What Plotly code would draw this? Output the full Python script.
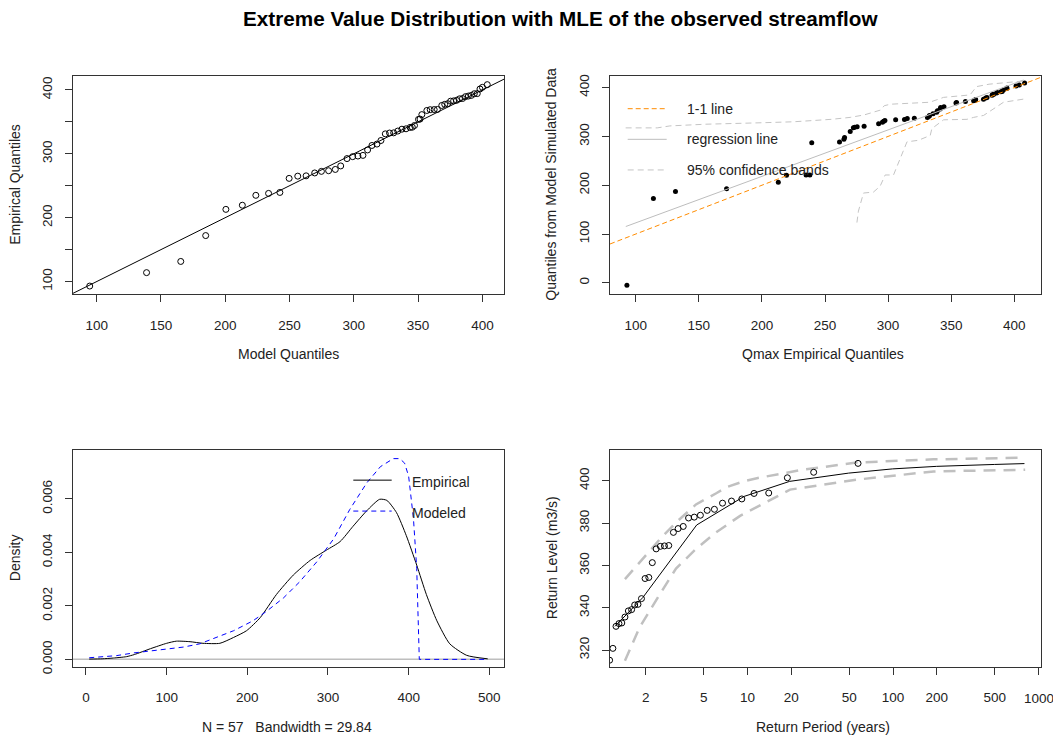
import plotly.graph_objects as go

W, H = 1053, 744

# ---------------- data ----------------
qmax_sorted = [93, 114, 131.5, 172, 213, 219.5, 235, 238, 239.5, 261.5,
               265, 265.5, 270, 272.5, 273.5, 275.5, 281, 292.5, 295.5, 296.5,
               297.5, 306, 313, 315.2, 320.8, 331.2, 332.5, 332.8, 335.6, 338.5,
               339.1, 341.3, 341.6, 344.3, 353.8, 354.3, 361.3, 367.8, 369, 369.2,
               369.4, 375.6, 377.4, 378.4, 382.4, 382.8, 383.7, 386, 386.5, 389.4,
               390.4, 391.4, 394.0, 394.2, 401.4, 404.0, 408.2]

model_quantiles = [94.6, 138.8, 165.4, 184.8, 200.5, 213.3, 223.8, 233.7, 242.5, 249.7,
                   256.4, 262.9, 269.6, 274.8, 280.4, 285.6, 289.8, 294.7, 299.1, 303.2,
                   307.1, 310.7, 314.1, 318.0, 321.1, 324.5, 327.8, 331.0, 334.2, 337.4,
                   340.6, 343.8, 345.5, 347.2, 350.3, 351.5, 352.9, 356.8, 359.4, 362.5,
                   365.0, 368.4, 370.7, 373.0, 375.3, 377.6, 379.9, 382.2, 384.5, 386.8,
                   389.1, 391.4, 393.7, 396.0, 398.1, 400.0, 403.8]

sim_quantiles = [-5, 173, 187, 193, 206, 220.6, 221, 221.2, 287, 288.5,
                 294, 297.6, 310.3, 317.8, 319, 319.8, 321, 325.9, 329.1, 331,
                 332.6, 334.2, 334.6, 336.5, 337.2, 338.7, 341.3, 343, 346.2, 349.4,
                 352.8, 356.3, 359.5, 360.9, 368.4, 369.6, 371.7, 373, 374, 375,
                 375.5, 376, 378.5, 379.8, 384.6, 386, 386.6, 388.7, 389.9, 391.3,
                 392, 395.3, 398, 399, 403.4, 405.5, 409.5]

reg_x = [92.1, 407.4]
reg_y = [115.4, 415.6]

ci_up_x = [92, 117, 127, 155, 200, 225, 255, 270, 281, 294, 297, 302, 333, 344, 365, 370, 380, 397, 409]
ci_up_y = [317.5, 317.5, 321.5, 325, 328, 330, 335, 339, 344, 354, 363, 366, 370, 380, 385, 402, 407, 411, 414]
ci_lo_x = [275.3, 276.5, 280.5, 288.4, 293.7, 297.7, 304.3, 315, 324, 333.4, 334.7, 344, 362.5, 367.8, 375.7, 391.5, 408.7]
ci_lo_y = [123.5, 147, 184, 186, 198, 221, 221, 289, 292, 302, 316, 334, 335, 339, 343, 370, 377]

emp_dens_x = [4, 20, 34, 50, 60, 80, 100, 112, 129, 145, 166, 183, 199, 216, 236, 257, 278,
              298, 315, 331, 348, 364, 373, 385, 397, 410, 422, 435, 451, 472, 498]
emp_dens_y = [0.00001, 0.00002, 0.00005, 0.0001, 0.00018, 0.0004, 0.0006, 0.00068, 0.00066,
              0.0006, 0.0006, 0.00082, 0.00107, 0.00156, 0.00242, 0.00315, 0.0037, 0.00408,
              0.00440, 0.00497, 0.00555, 0.00598, 0.00594, 0.00548, 0.00463, 0.00352, 0.00242,
              0.00144, 0.00058, 0.00015, 0.00002]
mod_dens_x = [4, 38, 59, 100, 121, 141, 162, 183, 207, 224, 245, 265, 286, 307, 327, 348, 365,
              381, 389, 395, 400, 406, 410, 412, 413.2, 450, 498]
mod_dens_y = [0.00006, 0.00014, 0.00024, 0.00039, 0.00046, 0.00058, 0.00082, 0.00107, 0.00144,
              0.0018, 0.0023, 0.0029, 0.00364, 0.0045, 0.0056, 0.00659, 0.0072, 0.0075, 0.0075,
              0.00733, 0.00684, 0.00524, 0.0034, 0.00156, 0.0, 0.0, 0.0]

rp_points = [57.5, 28.5, 18.8, 14.0, 11.1, 9.15, 7.77, 6.74, 5.93, 5.29, 4.75, 4.31, 3.94, 3.62,
             3.34, 3.10, 2.88, 2.69, 2.52, 2.36, 2.22, 2.10, 1.98, 1.87, 1.77, 1.68, 1.60, 1.52,
             1.44, 1.37, 1.31, 1.25, 1.19, 1.13]
rl_points = qmax_sorted[::-1][:len(rp_points)]

rl_T = [1.23, 1.91, 4.48, 9.49, 19.5, 49.5, 99.5, 199.5, 499.5, 799.5]
rl_level = [331.2, 344.8, 379.1, 392.6, 399.7, 403.6, 405.6, 406.8, 407.7, 408.1]
rl_up_T = [1.44, 1.91, 2.55, 3.32, 4.43, 6.15, 7.2, 9.49, 11.6, 18.6, 23, 56, 190, 809]
rl_up = [353.5, 363, 373, 381, 388.8, 394.2, 397, 399.8, 401.2, 403.8, 405, 408.6, 410.1, 410.9]
rl_lo_T = [1.44, 1.81, 2.48, 3.23, 4.43, 6.08, 8.9, 19.6, 56, 190, 809]
rl_lo = [314.9, 330.5, 346, 358.5, 367.8, 375.6, 383.4, 395.8, 400.5, 404.4, 405.2]

rp_ticks = [2, 5, 10, 20, 50, 100, 200, 500, 1000]
rp_ticktext = ["2", "5", "10", "20", "50", "100", "200", "500", ""]

# ---------------- layout helpers ----------------
FONT = "Liberation Sans, Arial, sans-serif"
INK = "#222222"
TICK_SIZE = 13.5


def px(x):
    return x / W


def py(y):
    return 1 - y / H


def axis(dom, rng, tickvals, ticktext=None, vertical=False, log=False):
    d = dict(domain=dom, range=rng, tickvals=tickvals, showline=True, mirror=True,
             linecolor="#333", linewidth=1, ticks="outside", ticklen=7, tickcolor="#333",
             tickwidth=1, showgrid=False, zeroline=False,
             tickfont=dict(size=TICK_SIZE, color=INK, family=FONT), fixedrange=True)
    if ticktext is not None:
        d["ticktext"] = ticktext
    if log:
        d["type"] = "log"
    if vertical:
        d["tickangle"] = -90
        d["ticklabelstandoff"] = 8
    else:
        d["ticklabelstandoff"] = 11
    return d


X_L = [px(73), px(504)]
X_R = [px(610), px(1041)]
Y_T = [py(296), py(75)]
Y_B = [py(673), py(453)]

fig = go.Figure()

# ---- top-left: QQ plot ----
fig.add_trace(go.Scatter(x=model_quantiles, y=qmax_sorted, mode="markers",
                         marker=dict(symbol="circle-open", size=6, color="black",
                                     line=dict(width=1, color="black")),
                         xaxis="x", yaxis="y", showlegend=False))
TL_XR = [81.6, 416.8]
TL_YR = [79.9, 421.6]
fig.add_trace(go.Scatter(x=TL_XR, y=TL_XR, mode="lines", line=dict(color="black", width=1),
                         xaxis="x", yaxis="y", showlegend=False))

# ---- top-right: QQ plot vs simulated ----
TR_XR = [79.6, 421.2]
TR_YR = [-23.7, 423.6]
fig.add_trace(go.Scatter(x=qmax_sorted, y=sim_quantiles, mode="markers",
                         marker=dict(symbol="circle", size=5, color="black"),
                         xaxis="x2", yaxis="y2", showlegend=False))
fig.add_trace(go.Scatter(x=TR_XR, y=TR_XR, mode="lines",
                         line=dict(color="darkorange", width=1, dash="5px,3px"),
                         xaxis="x2", yaxis="y2", showlegend=False))
fig.add_trace(go.Scatter(x=reg_x, y=reg_y, mode="lines", line=dict(color="#bdbdbd", width=1),
                         xaxis="x2", yaxis="y2", showlegend=False))
fig.add_trace(go.Scatter(x=ci_up_x, y=ci_up_y, mode="lines",
                         line=dict(color="#c4c4c4", width=1, dash="6px,4px"),
                         xaxis="x2", yaxis="y2", showlegend=False))
fig.add_trace(go.Scatter(x=ci_lo_x, y=ci_lo_y, mode="lines",
                         line=dict(color="#c4c4c4", width=1, dash="6px,4px"),
                         xaxis="x2", yaxis="y2", showlegend=False))

# ---- bottom-left: density ----
fig.add_trace(go.Scatter(x=emp_dens_x, y=emp_dens_y, mode="lines",
                         line=dict(color="black", width=1, shape="spline", smoothing=0.6),
                         xaxis="x3", yaxis="y3", showlegend=False))
fig.add_trace(go.Scatter(x=mod_dens_x, y=mod_dens_y, mode="lines",
                         line=dict(color="blue", width=1, dash="5px,4px"),
                         xaxis="x3", yaxis="y3", showlegend=False))

# ---- bottom-right: return level ----
fig.add_trace(go.Scatter(x=rl_T, y=rl_level, mode="lines", line=dict(color="black", width=1),
                         xaxis="x4", yaxis="y4", showlegend=False))
fig.add_trace(go.Scatter(x=rl_up_T, y=rl_up, mode="lines",
                         line=dict(color="#c0c0c0", width=2.5, dash="12px,8px"),
                         xaxis="x4", yaxis="y4", showlegend=False))
fig.add_trace(go.Scatter(x=rl_lo_T, y=rl_lo, mode="lines",
                         line=dict(color="#c0c0c0", width=2.5, dash="12px,8px"),
                         xaxis="x4", yaxis="y4", showlegend=False))
fig.add_trace(go.Scatter(x=rp_points, y=rl_points, mode="markers",
                         marker=dict(symbol="circle-open", size=6, color="black",
                                     line=dict(width=1, color="black")),
                         xaxis="x4", yaxis="y4", showlegend=False))

t100 = [100, 150, 200, 250, 300, 350, 400]
fig.update_layout(
    width=W, height=H, margin=dict(l=0, r=0, t=0, b=0),
    paper_bgcolor="white", plot_bgcolor="white",
    font=dict(family=FONT, color=INK, size=13),
    xaxis=axis(X_L, TL_XR, t100),
    yaxis=axis(Y_T, TL_YR, t100, ["100", "", "200", "", "300", "", "400"], vertical=True),
    xaxis2=axis(X_R, TR_XR, t100),
    yaxis2=axis(Y_T, TR_YR, [0, 100, 200, 300, 400], vertical=True),
    xaxis3=axis(X_L, [-16.1, 518.2], [0, 100, 200, 300, 400, 500]),
    yaxis3=axis(Y_B, [-0.00028, 0.00784], [0, 0.002, 0.004, 0.006],
                ["0.000", "0.002", "0.004", "0.006"], vertical=True),
    xaxis4=axis(X_R, [0.0557, 3.0166], rp_ticks, rp_ticktext, log=True),
    yaxis4=axis(Y_B, [312.06, 414.75], [320, 340, 360, 380, 400], vertical=True),
)
for k in ["xaxis", "xaxis2", "xaxis3", "xaxis4"]:
    fig.layout[k].anchor = {"xaxis": "y", "xaxis2": "y2", "xaxis3": "y3", "xaxis4": "y4"}[k]
for k in ["yaxis", "yaxis2", "yaxis3", "yaxis4"]:
    fig.layout[k].anchor = {"yaxis": "x", "yaxis2": "x2", "yaxis3": "x3", "yaxis4": "x4"}[k]

shapes = []
# zero line of density plot
shapes.append(dict(type="line", xref="x3 domain", yref="y3", x0=0, x1=1, y0=0, y1=0,
                   line=dict(color="#bebebe", width=1.5), layer="below"))
# top-right legend samples
shapes.append(dict(type="line", xref="paper", yref="paper", x0=px(627.7), x1=px(666.7),
                   y0=py(108), y1=py(108), line=dict(color="darkorange", width=1, dash="5px,3px")))
shapes.append(dict(type="line", xref="paper", yref="paper", x0=px(627.7), x1=px(666.7),
                   y0=py(139), y1=py(139), line=dict(color="#bdbdbd", width=1)))
shapes.append(dict(type="line", xref="paper", yref="paper", x0=px(627.7), x1=px(666.7),
                   y0=py(170), y1=py(170), line=dict(color="#c4c4c4", width=1, dash="6px,4px")))
# bottom-left legend samples
shapes.append(dict(type="line", xref="paper", yref="paper", x0=px(353.3), x1=px(391.7),
                   y0=py(484), y1=py(484), line=dict(color="black", width=1)))
shapes.append(dict(type="line", xref="paper", yref="paper", x0=px(353.3), x1=px(391.7),
                   y0=py(515.3), y1=py(515.3), line=dict(color="blue", width=1, dash="5px,4px")))
fig.update_layout(shapes=shapes)

ann = []


def text(t, x, y, size=14, angle=0, xanchor="center", bold=False):
    ann.append(dict(text=("<b>%s</b>" % t) if bold else t, x=px(x), y=py(y), xref="paper",
                    yref="paper", showarrow=False, textangle=angle, xanchor=xanchor,
                    yanchor="middle", font=dict(size=size, color=INK if not bold else "black",
                                                family=FONT)))


text("Extreme Value Distribution with MLE of the observed streamflow", 560, 17, size=20.7, bold=True)
text("Model Quantiles", 288.5, 356)
text("Empirical Quantiles", 15, 185, angle=-90)
text("Qmax Empirical Quantiles", 823.3, 356)
text("Quantiles from Model Simulated Data", 551, 185, angle=-90)
text("N = 57   Bandwidth = 29.84", 286.7, 734)
text("Density", 15, 563, angle=-90)
text("Return Period (years)", 823.3, 734)
text("Return Level (m3/s)", 552, 563, angle=-90)
text("1-1 line", 685.5, 108, xanchor="left")
text("regression line", 685.5, 139, xanchor="left")
text("95% confidence bands", 685.5, 170, xanchor="left")
text("Empirical", 410, 486, xanchor="left")
text("Modeled", 410, 517, xanchor="left")
# last log-axis label placed as annotation so it is not hidden at the page edge
ann.append(dict(text="1000", xref="x4", x=3, yref="paper", y=py(700), yshift=-5,
                showarrow=False, xanchor="center", yanchor="middle",
                font=dict(size=TICK_SIZE, color=INK, family=FONT)))
fig.update_layout(annotations=ann)

fig.write_html("out.html")
